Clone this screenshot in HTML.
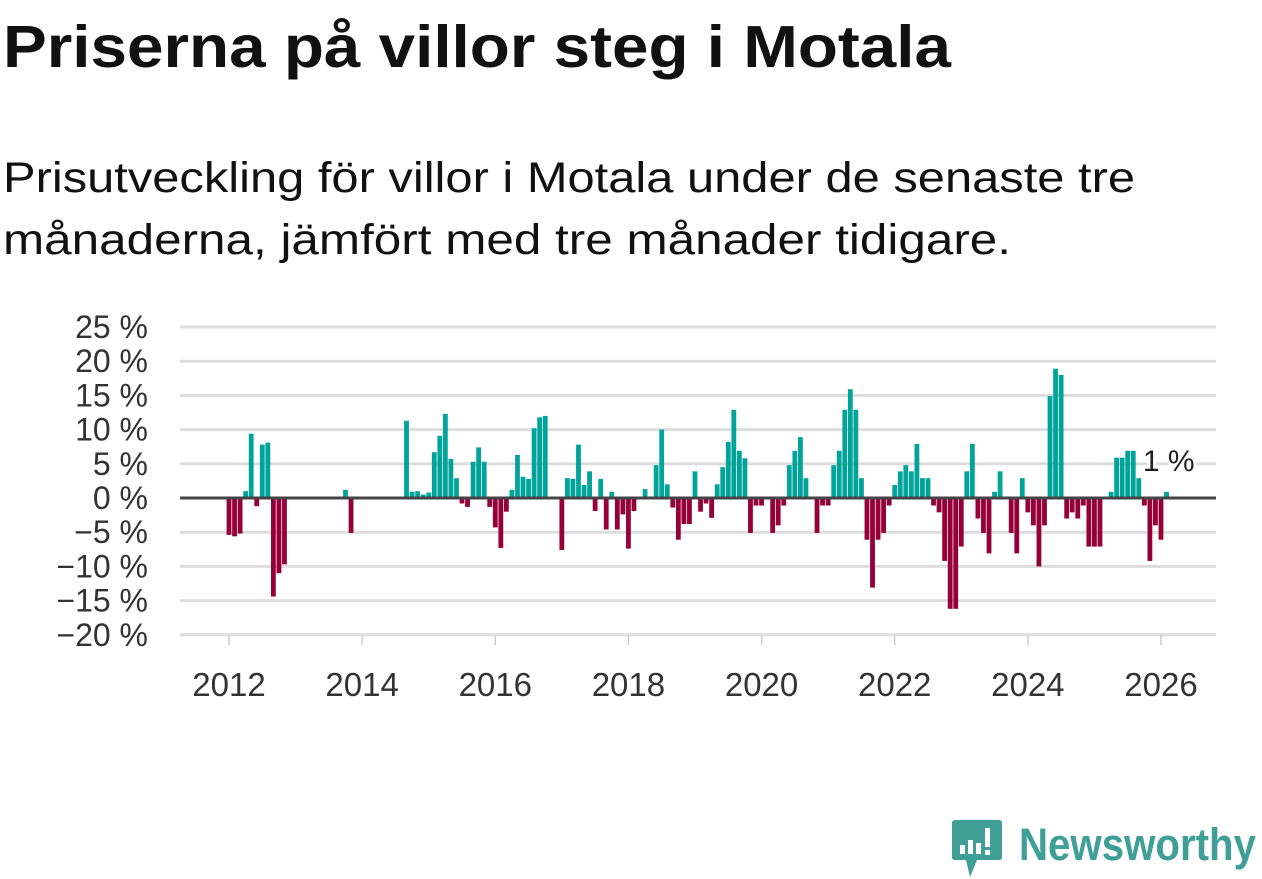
<!DOCTYPE html>
<html><head><meta charset="utf-8"><style>
html,body{margin:0;padding:0;background:#fff;width:1262px;height:879px;overflow:hidden}
svg{display:block}
text{font-family:"Liberation Sans",sans-serif}
</style></head><body>
<svg id="chart" width="1262" height="879" viewBox="0 0 1262 879">
<text x="3" y="67" font-size="59" font-weight="bold" fill="#111" textLength="948" lengthAdjust="spacingAndGlyphs">Priserna på villor steg i Motala</text>
<text x="3" y="192" font-size="43" fill="#111" textLength="1132" lengthAdjust="spacingAndGlyphs">Prisutveckling för villor i Motala under de senaste tre</text>
<text x="3" y="254" font-size="43" fill="#111" textLength="1008" lengthAdjust="spacingAndGlyphs">månaderna, jämfört med tre månader tidigare.</text>
<g id="grid"></g>
<g id="yaxis"></g>
<g id="xaxis"></g>
<g id="bars"></g>
<line id="zero" x1="180" x2="1216" stroke="#444" stroke-width="3"/>
<g id="lbl"></g>
<g>
<path d="M955 820 H999 Q1002 820 1002 823 V857 Q1002 860 999 860 H977 L970 877 L966 860 H955 Q952 860 952 857 V823 Q952 820 955 820 Z" fill="#3f9e96"/>
<rect x="960" y="845" width="5" height="9" fill="#fff"/><rect x="968" y="840" width="5" height="14" fill="#fff"/><rect x="976" y="843" width="5" height="11" fill="#fff"/><rect x="985" y="828" width="5" height="19" fill="#fff"/><rect x="985" y="850" width="5" height="5" fill="#fff"/>
<text x="1019" y="860" font-size="45" font-weight="bold" fill="#3f9e96" textLength="237" lengthAdjust="spacingAndGlyphs">Newsworthy</text>
</g>
</svg>
<script>
const startYear = 2012;
const values = [
-5.4,-5.6,-5.2,1.0,9.4,-1.2,7.8,8.1,-14.4,-11,-9.7,null,
null,null,null,null,null,null,null,null,null,1.2,-5.1,null,
null,null,null,null,null,null,null,null,11.3,0.9,1.0,0.5,
0.8,6.7,9.1,12.3,5.7,2.9,-0.8,-1.3,5.3,7.4,5.3,-1.3,
-4.3,-7.3,-2.0,1.2,6.3,3.1,2.8,10.2,11.8,12.0,null,null,
-7.6,2.9,2.8,7.8,1.9,3.9,-1.9,2.8,-4.6,0.9,-4.6,-2.4,
-7.4,-1.9,null,1.3,null,4.8,10,2.0,-1.4,-6.1,-3.8,-3.8,
3.9,-2.0,-0.8,-2.9,2.0,4.5,8.2,12.9,6.9,5.8,-5.1,-1.1,
-1.1,null,-5.1,-4.0,-1.1,4.8,6.9,8.9,2.9,null,-5.1,-1.1,
-1.1,4.8,6.9,12.9,15.9,12.9,2.9,-6.1,-13.1,-6.1,-5.1,-1.1,
1.9,3.9,4.8,3.9,7.9,2.9,2.9,-1.1,-2.1,-9.2,-16.2,-16.2,
-7.1,3.9,7.9,-3.0,-5.1,-8.1,0.9,3.9,null,-5.1,-8.1,2.9,
-2.1,-4.0,-10.0,-4.0,14.9,18.9,18.0,-3.0,-2.1,-3.0,-1.1,-7.1,
-7.1,-7.1,null,0.9,5.9,5.9,6.9,6.9,2.9,-1.1,-9.2,-4.0,
-6.1,0.9];
const yTicks = [25,20,15,10,5,0,-5,-10,-15,-20];
const xTicks = [2012,2014,2016,2018,2020,2022,2024,2026];
const lastLabel = "1 %";

const NS = "http://www.w3.org/2000/svg";
function y(v){ return 498 - v * 6.84; }
function x(t){ return 229 + (t - 2012) * 66.57; }
function mk(tag, attrs, parent){ const e=document.createElementNS(NS,tag); for(const k in attrs) e.setAttribute(k,attrs[k]); parent.appendChild(e); return e; }
const grid=document.getElementById('grid'), ya=document.getElementById('yaxis'), xa=document.getElementById('xaxis'), bars=document.getElementById('bars');
yTicks.forEach(v=>{
  const l=mk('line',{x1:180,x2:1216,y1:y(v),y2:y(v),stroke:'#ddd','stroke-width':3},grid);
  
  
  const t=mk('text',{x:148,y:y(v)+11,'font-size':32,fill:'#333','text-anchor':'end'},ya);
  t.textContent=(v<0?'\u2212'+(-v):v)+' %';
  
  
});
mk('line',{x1:180,x2:1216,y1:635,y2:635,stroke:'#ddd','stroke-width':1},xa);
xTicks.forEach(yr=>{
  const tk=mk('line',{x1:x(yr),x2:x(yr),y1:635,y2:645,stroke:'#ccc','stroke-width':1.5},xa);
  
  
  const t=mk('text',{x:x(yr),y:696,'font-size':33,fill:'#333','text-anchor':'middle'},xa);
  t.textContent=yr;
  
  
});
document.getElementById('zero').setAttribute('y1',y(0));
document.getElementById('zero').setAttribute('y2',y(0));
let lastI=-1;
values.forEach((v,i)=>{
  if(v===null) return;
  lastI=i;
  const cx=x(startYear+i/12);
  const r=mk('rect',{x:cx-2.4,width:4.8,y:Math.min(y(v),y(0)),height:Math.abs(y(v)-y(0)),fill:v>=0?'#00a49a':'#960036'},bars);
  
  
});
const lx=x(startYear+lastI/12);
const lt=mk('text',{x:lx+28,y:471,'font-size':30,fill:'#222','text-anchor':'end',stroke:'#fff','stroke-width':6,'paint-order':'stroke'},document.getElementById('lbl'));
lt.textContent=lastLabel;


</script>
</body></html>
